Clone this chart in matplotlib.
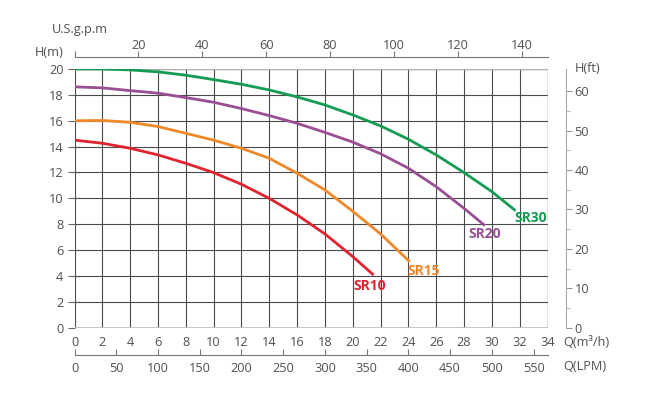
import matplotlib
matplotlib.use('Agg')
import matplotlib.pyplot as plt
from matplotlib.ticker import FixedLocator

plt.rcParams['font.family'] = ['Open Sans', 'DejaVu Sans']

# ---------------- data ----------------
q_ticks = list(range(0, 35, 2))          # m3/h
h_ticks = list(range(0, 21, 2))          # m
gpm_ticks = list(range(0, 141, 20))      # US gpm
lpm_ticks = list(range(0, 551, 50))      # LPM
ft_ticks = list(range(0, 61, 10))        # ft
ft_minor = list(range(5, 56, 10))

sr30_q = [0, 2, 4, 6, 8, 10, 12, 14, 16, 18, 20, 22, 24, 26, 28, 30, 31.7]
sr30_h = [20.0, 20.0, 19.93, 19.78, 19.52, 19.18, 18.82, 18.38, 17.84, 17.22,
          16.45, 15.6, 14.57, 13.36, 11.99, 10.52, 9.05]

sr20_q = [0, 2, 4, 6, 8, 10, 12, 14, 16, 18, 20, 22, 24, 26, 28, 29.5]
sr20_h = [18.62, 18.54, 18.33, 18.13, 17.79, 17.43, 16.94, 16.4, 15.8, 15.1,
          14.35, 13.45, 12.33, 10.9, 9.23, 7.89]

sr15_q = [0, 2, 4, 6, 8, 10, 12, 14, 16, 18, 20, 22, 24.1]
sr15_h = [16.0, 16.02, 15.88, 15.55, 15.03, 14.5, 13.87, 13.1, 11.94, 10.65,
          9.0, 7.25, 5.1]

sr10_q = [0, 2, 4, 6, 8, 10, 12, 14, 16, 18, 20, 21.5]
sr10_h = [14.5, 14.26, 13.87, 13.36, 12.71, 11.99, 11.09, 10.0, 8.72, 7.25,
          5.5, 4.07]

series_names = ['SR30', 'SR20', 'SR15', 'SR10']
series_colors = ['#149c52', '#9a4e93', '#f0882a', '#e1232f']

# ---------------- figure ----------------
W_PX, H_PX = 653, 409
fig = plt.figure(figsize=(W_PX / 100, H_PX / 100), dpi=100)


def fx(px):
    return px / W_PX


def fy(py):
    return 1 - py / H_PX


x0, x1 = 74.5, 547.5
y_top, y_bot = 69.0, 327.7
L, R = fx(x0), fx(x1)
B, T = fy(y_bot), fy(y_top)

text_col = '#505050'
fs = 9.2

ax = fig.add_axes([L, B, R - L, T - B])
ax.set_xlim(0, 34)
ax.set_ylim(0, 20)
for s in ax.spines.values():
    s.set_visible(False)

# grid
for q in q_ticks:
    ax.axvline(q, color='#4a4a4a', lw=0.8, zorder=1)
for h in h_ticks:
    ax.axhline(h, color='#4a4a4a', lw=0.8, zorder=1)
ax.axhline(0, color='#c0c0c0', lw=2.0, zorder=1.5)
ax.axhline(20, color='#b0b0b0', lw=1.0, zorder=1.5)
ax.axvline(34, color='#b0b0b0', lw=1.0, zorder=1.5)

ax.set_xticks(q_ticks)
ax.set_yticks(h_ticks)
ax.tick_params(axis='x', length=0, pad=6, labelsize=fs, labelcolor=text_col)
ax.tick_params(axis='y', length=5, width=0.8, color='#666666', pad=3,
               labelsize=fs, labelcolor=text_col)

series_q = [sr30_q, sr20_q, sr15_q, sr10_q]
series_h = [sr30_h, sr20_h, sr15_h, sr10_h]
label_xy = [(32.8, 8.5), (29.5, 7.25), (25.1, 4.4), (21.2, 3.2)]
for q, h, c, n, (lx, ly) in zip(series_q, series_h, series_colors,
                                  series_names, label_xy):
    ax.plot(q, h, color=c, lw=2.0, zorder=3, solid_capstyle='butt',
            solid_joinstyle='round')
    ax.text(lx, ly, n, color=c, fontsize=10, fontweight='bold',
            ha='center', va='center', zorder=4)

# top US gpm axis
ax_top = fig.add_axes([L, fy(57.3), R - L, 1e-5])
ax_top.patch.set_visible(False)
for k in ['left', 'right', 'bottom']:
    ax_top.spines[k].set_visible(False)
ax_top.spines['top'].set_color('#777777')
ax_top.spines['top'].set_linewidth(0.8)
ax_top.set_xlim(0, 148.1)
ax_top.set_yticks([])
ax_top.xaxis.set_ticks_position('top')
ax_top.xaxis.set_label_position('top')
ax_top.set_xticks(gpm_ticks)
ax_top.set_xticklabels([''] + [str(v) for v in gpm_ticks[1:]])
ax_top.tick_params(axis='x', direction='out', length=4, width=0.8,
                   color='#777777', pad=0, labelsize=fs, labelcolor=text_col)

# bottom LPM axis
ax_lpm = fig.add_axes([L, fy(355.3), R - L, 1e-5])
ax_lpm.patch.set_visible(False)
for k in ['left', 'right', 'top']:
    ax_lpm.spines[k].set_visible(False)
ax_lpm.spines['bottom'].set_color('#777777')
ax_lpm.spines['bottom'].set_linewidth(0.8)
ax_lpm.set_xlim(0, 34 * 1000 / 60)
ax_lpm.set_yticks([])
ax_lpm.set_xticks(lpm_ticks)
ax_lpm.tick_params(axis='x', direction='in', length=4, width=0.8,
                   color='#777777', pad=5, labelsize=fs, labelcolor=text_col)

# right H(ft) axis
ax_ft = fig.add_axes([fx(566), B, 1e-5, T - B])
ax_ft.patch.set_visible(False)
for k in ['left', 'top', 'bottom']:
    ax_ft.spines[k].set_visible(False)
ax_ft.spines['right'].set_color('#aaaaaa')
ax_ft.spines['right'].set_linewidth(0.8)
ax_ft.set_ylim(0, 20 / 0.3048)
ax_ft.set_xticks([])
ax_ft.yaxis.set_ticks_position('right')
ax_ft.set_yticks(ft_ticks)
ax_ft.yaxis.set_minor_locator(FixedLocator(ft_minor))
ax_ft.tick_params(axis='y', which='major', direction='out', length=4,
                  width=0.8, color='#999999', pad=2, labelsize=fs,
                  labelcolor=text_col)
ax_ft.tick_params(axis='y', which='minor', direction='out', length=3,
                  width=0.8, color='#bbbbbb')

# axis titles
fig.text(fx(52), fy(30), 'U.S.g.p.m', fontsize=fs, color=text_col,
         ha='left', va='center')
fig.text(fx(64), fy(52), 'H(m)', fontsize=fs, color=text_col,
         ha='right', va='center')
fig.text(fx(575), fy(69), 'H(ft)', fontsize=fs, color=text_col,
         ha='left', va='center')
fig.text(fx(563), fy(343), 'Q(m³/h)', fontsize=fs, color=text_col,
         ha='left', va='center')
fig.text(fx(563), fy(366), 'Q(LPM)', fontsize=fs, color=text_col,
         ha='left', va='center')

fig.savefig('out.png', dpi=100)
